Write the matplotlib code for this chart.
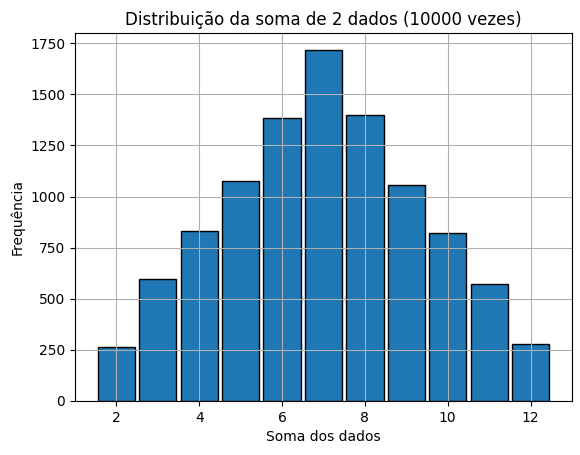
import matplotlib
matplotlib.use("Agg")
import matplotlib.pyplot as plt

somas = [2, 3, 4, 5, 6, 7, 8, 9, 10, 11, 12]
frequencias = [264, 596, 831, 1075, 1383, 1716, 1398, 1056, 821, 572, 279]

fig = plt.figure(figsize=(5.8, 4.55), dpi=100)
ax = fig.add_axes([75/580, 54/455, 497/580, 368/455])
ax.bar(somas, frequencias, width=0.9, color="#1f77b4", edgecolor="black")
ax.set_xlim(1.0, 13.0)
ax.set_ylim(0, 1800)
ax.set_xticks([2, 4, 6, 8, 10, 12])
ax.set_yticks(range(0, 1751, 250))
ax.grid(True)
ax.set_title("Distribuição da soma de 2 dados (10000 vezes)")
ax.set_xlabel("Soma dos dados")
ax.set_ylabel("Frequência")
fig.savefig("out.png", dpi=100)
